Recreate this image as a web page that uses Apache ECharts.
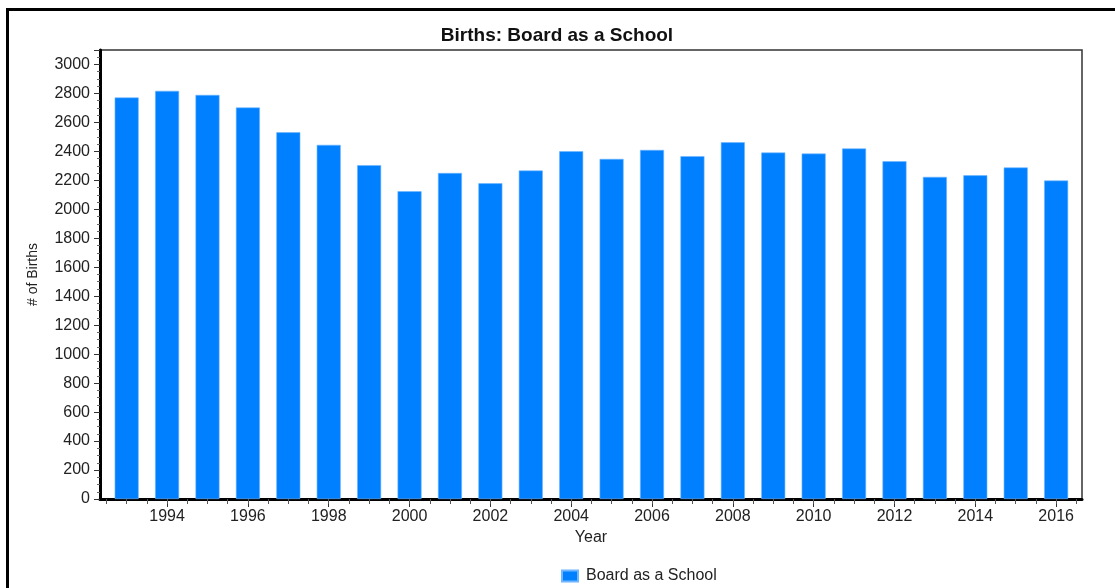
<!DOCTYPE html>
<html>
<head>
<meta charset="utf-8">
<title>Births: Board as a School</title>
<script src="https://cdn.jsdelivr.net/npm/echarts@6/dist/echarts.min.js"></script>
<style>
    html, body { margin: 0; padding: 0; background: #fff; overflow: hidden; }
    #frame { position: absolute; left: 6px; top: 8px; width: 1300px; height: 800px; border: 3px solid #000; }
    #chart { position: absolute; left: 0; top: 0; width: 1115px; height: 588px; }
</style>
</head>
<body>
<div id="frame"></div>
<div id="chart"></div>
<script>
    // years and births
    var years = [1993, 1994, 1995, 1996, 1997, 1998, 1999, 2000, 2001, 2002, 2003, 2004,
                 2005, 2006, 2007, 2008, 2009, 2010, 2011, 2012, 2013, 2014, 2015, 2016];
    var births = [2772, 2818, 2790, 2703, 2532, 2445, 2305, 2125, 2251, 2180, 2268, 2401,
                  2348, 2410, 2367, 2463, 2392, 2385, 2420, 2332, 2224, 2235, 2289, 2199];
    var yearLabels = [1994, 1996, 1998, 2000, 2002, 2004, 2006, 2008, 2010, 2012, 2014, 2016];

    // half-year minor ticks along the bottom
    var halfTicks = [];
    for (var t = 1992.5; t <= 2016.5; t += 0.5) {
        halfTicks.push(t);
    }

    var seriesData = [];
    for (var i = 0; i < years.length; i++) {
        seriesData.push([years[i], births[i]]);
    }

    var font = 'Liberation Sans, Arial, sans-serif';
    var xMin = 1992.34, xMax = 2016.64;

    var chart = echarts.init(document.getElementById('chart'));
    chart.setOption({
        animation: false,
        title: {
            text: 'Births: Board as a School',
            left: 552,
            textAlign: 'center',
            top: 21,
            textStyle: { fontFamily: font, fontSize: 19, fontWeight: 'bold', color: '#111' }
        },
        legend: {
            left: 556,
            top: 563,
            itemWidth: 16,
            itemHeight: 11,
            icon: 'rect',
            textStyle: { fontFamily: font, fontSize: 16, color: '#222', padding: [0, 0, 0, 3] },
            data: ['Board as a School']
        },
        grid: {
            left: 100,
            right: 33,
            top: 50,
            bottom: 89,
            show: true,
            borderColor: '#333',
            borderWidth: 1.5,
            backgroundColor: 'transparent'
        },
        xAxis: [
            {
                type: 'value',
                min: xMin,
                max: xMax,
                name: 'Year',
                nameLocation: 'middle',
                nameGap: 24,
                nameTextStyle: { fontFamily: font, fontSize: 16, color: '#222' },
                splitLine: { show: false },
                axisLine: { show: true, lineStyle: { color: '#000', width: 3 } },
                axisTick: { show: true, customValues: yearLabels, length: 8, lineStyle: { color: '#333' } },
                axisLabel: {
                    customValues: yearLabels,
                    margin: 10,
                    fontFamily: font,
                    fontSize: 16,
                    color: '#222',
                    formatter: function (v) { return String(v); }
                }
            },
            {
                type: 'value',
                min: xMin,
                max: xMax,
                position: 'bottom',
                splitLine: { show: false },
                axisLine: { show: false },
                axisTick: { show: true, customValues: halfTicks, length: 5, lineStyle: { color: '#555' } },
                axisLabel: { show: false }
            }
        ],
        yAxis: {
            type: 'value',
            min: 0,
            max: 3100,
            interval: 200,
            name: '# of Births',
            nameLocation: 'middle',
            nameGap: 60,
            nameTextStyle: { fontFamily: font, fontSize: 14, color: '#222' },
            splitLine: { show: false },
            axisLine: { show: true, lineStyle: { color: '#000', width: 3 } },
            axisTick: { show: true, length: 6, lineStyle: { color: '#333' } },
            minorTick: { show: true, splitNumber: 4, length: 3, lineStyle: { color: '#666' } },
            axisLabel: {
                margin: 10,
                fontFamily: font,
                fontSize: 16,
                color: '#222',
                showMaxLabel: false,
                formatter: function (v) { return String(v); }
            }
        },
        series: [
            {
                name: 'Board as a School',
                type: 'bar',
                xAxisIndex: 0,
                barWidth: 24,
                itemStyle: { color: '#0080ff', borderColor: '#6fb6ff', borderWidth: 0.6 },
                data: seriesData
            }
        ]
    });
</script>
</body>
</html>
